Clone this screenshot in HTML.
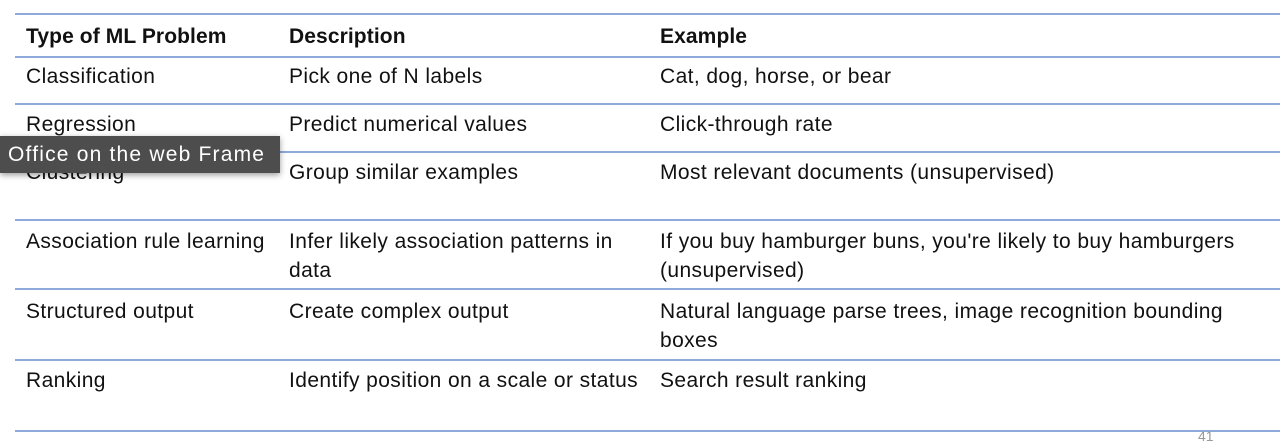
<!DOCTYPE html>
<html><head><style>
body{margin:0;width:1280px;height:442px;background:#fff;position:relative;overflow:hidden;font-family:"Liberation Sans",sans-serif;color:#111}
.l{position:absolute;left:15px;right:0;height:2px;background:#8eaadb}
.t{position:absolute;font-size:21px;line-height:29px;white-space:nowrap;letter-spacing:0.4px}
.b{font-weight:bold;letter-spacing:0.1px}
.tip{position:absolute;left:0;top:136px;width:280px;height:37px;background:#4d4d4d;color:#fff;font-size:21px;letter-spacing:1.2px;line-height:37px;padding-left:8px;box-sizing:border-box;box-shadow:0 2px 6px rgba(0,0,0,.4);white-space:nowrap;overflow:hidden}
</style></head><body>
<div class="l" style="top:13px"></div>
<div class="l" style="top:56px"></div>
<div class="l" style="top:103px"></div>
<div class="l" style="top:151px"></div>
<div class="l" style="top:219px"></div>
<div class="l" style="top:288px"></div>
<div class="l" style="top:359px"></div>
<div class="l" style="top:430px"></div>

<div class="t b" style="left:26px;top:22px">Type of ML Problem</div>
<div class="t b" style="left:289px;top:22px">Description</div>
<div class="t b" style="left:660px;top:22px">Example</div>

<div class="t" style="left:26px;top:62px">Classification</div>
<div class="t" style="left:289px;top:62px">Pick one of N labels</div>
<div class="t" style="left:660px;top:62px">Cat, dog, horse, or bear</div>

<div class="t" style="left:26px;top:110px">Regression</div>
<div class="t" style="left:289px;top:110px">Predict numerical values</div>
<div class="t" style="left:660px;top:110px">Click-through rate</div>

<div class="t" style="left:26px;top:158px">Clustering</div>
<div class="t" style="left:289px;top:158px">Group similar examples</div>
<div class="t" style="left:660px;top:158px">Most relevant documents (unsupervised)</div>

<div class="t" style="left:26px;top:227px">Association rule learning</div>
<div class="t" style="left:289px;top:227px">Infer likely association patterns in<br>data</div>
<div class="t" style="left:660px;top:227px">If you buy hamburger buns, you're likely to buy hamburgers<br>(unsupervised)</div>

<div class="t" style="left:26px;top:297px">Structured output</div>
<div class="t" style="left:289px;top:297px">Create complex output</div>
<div class="t" style="left:660px;top:297px">Natural language parse trees, image recognition bounding<br>boxes</div>

<div class="t" style="left:26px;top:366px">Ranking</div>
<div class="t" style="left:289px;top:366px">Identify position on a scale or status</div>
<div class="t" style="left:660px;top:366px">Search result ranking</div>

<div style="position:absolute;left:1198px;top:428px;font-size:14px;color:#999">41</div>

<div class="tip">Office on the web Frame</div>
</body></html>
